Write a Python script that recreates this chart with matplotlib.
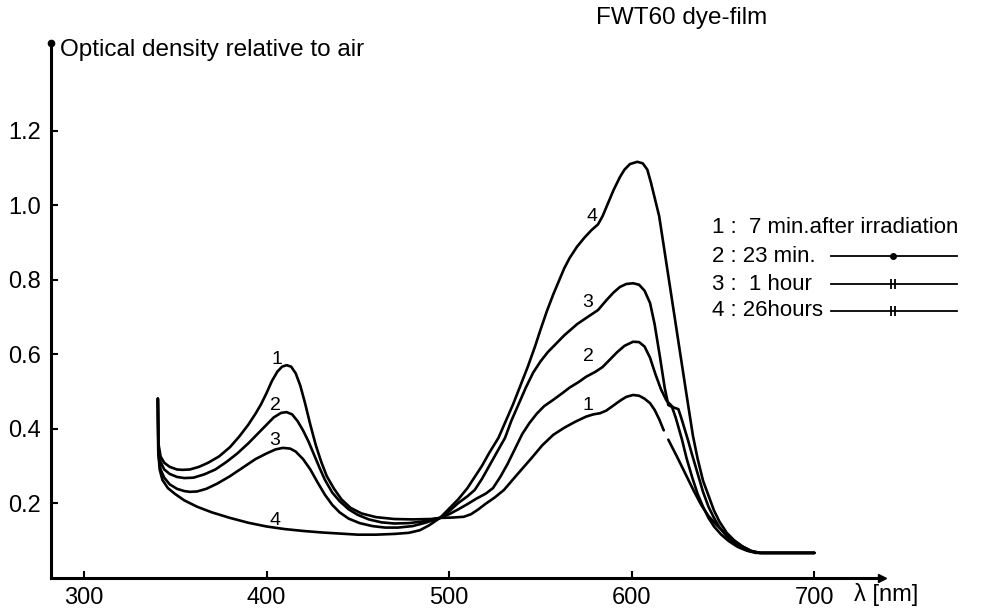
import numpy as np
import matplotlib
matplotlib.use("Agg")
import matplotlib.pyplot as plt
from matplotlib.lines import Line2D

plt.rcParams["font.family"] = ["Liberation Sans", "DejaVu Sans"]

nan = np.nan

# ── data (wavelength nm, optical density) ────────────────────────────────────
wl_1 = [340.5, 340.8, 342, 344, 347, 351, 354, 358, 363, 368, 374, 380, 385, 390,
        394, 397, 400, 403, 406, 408.5, 411, 413.5, 416, 418.5, 421, 424, 427, 430,
        433, 437, 441, 446, 452, 460, 470, 480, 490, 495, 502, 508, 512, 516, 520,
        525, 530, 537, 545, 551, 557, 563, 569, 575, 579, 582.6, 586, 590, 594, 597,
        600.7, 604, 607, 610, 612.5, 615, 617.5, nan, 620, 625, 630, 634, 638, 642,
        646, 650, 655, 660, 665, 670, 700]
od_1 = [0.48, 0.36, 0.325, 0.308, 0.297, 0.29, 0.289, 0.29, 0.297, 0.308, 0.325, 0.35,
        0.378, 0.41, 0.44, 0.465, 0.495, 0.528, 0.553, 0.566, 0.57, 0.566, 0.548, 0.515,
        0.47, 0.41, 0.355, 0.31, 0.272, 0.238, 0.21, 0.187, 0.172, 0.162, 0.157, 0.156,
        0.157, 0.16, 0.161, 0.163, 0.17, 0.183, 0.198, 0.215, 0.235, 0.275, 0.32,
        0.355, 0.383, 0.402, 0.418, 0.432, 0.438, 0.441, 0.448, 0.462, 0.476, 0.485,
        0.49, 0.488, 0.48, 0.468, 0.45, 0.425, 0.395, nan, 0.37, 0.322, 0.272, 0.232,
        0.195, 0.165, 0.143, 0.124, 0.102, 0.085, 0.072, 0.066, 0.066]

wl_2 = [340.5, 340.8, 342, 344, 347, 351, 355, 360, 366, 372, 378, 384, 390, 395,
        400, 404, 408, 411, 414, 417, 420, 423, 426, 429, 432, 436, 440, 445, 450, 456,
        463, 470, 478, 485, 490, 495, 500, 505, 510, 515, 520, 524, 528, 532, 536, 540,
        544, 548, 552, 557, 562, 566, 571, 575, 580, 584, 588, 592, 596, 600.7, 604,
        607, 610, 613, 616, 619, 622.6, 625.5, 627, 630.7, 633, 636, 639, 642, 645, 648,
        652, 656, 660, 665, 670, 700]
od_2 = [0.48, 0.35, 0.31, 0.29, 0.278, 0.27, 0.267, 0.268, 0.277, 0.29, 0.31, 0.333,
        0.36, 0.385, 0.41, 0.43, 0.442, 0.444, 0.438, 0.42, 0.395, 0.365, 0.33, 0.295,
        0.262, 0.228, 0.205, 0.183, 0.168, 0.156, 0.148, 0.145, 0.146, 0.15, 0.155,
        0.16, 0.17, 0.183, 0.197, 0.212, 0.225, 0.24, 0.27, 0.305, 0.345, 0.385, 0.415,
        0.44, 0.46, 0.477, 0.495, 0.51, 0.525, 0.539, 0.552, 0.565, 0.585, 0.605,
        0.622, 0.633, 0.632, 0.62, 0.59, 0.545, 0.505, 0.475, 0.457, 0.452, 0.43, 0.37,
        0.33, 0.28, 0.23, 0.19, 0.16, 0.135, 0.11, 0.093, 0.08, 0.07, 0.066, 0.066]

wl_3 = [340.5, 340.8, 342, 344, 347, 351, 355, 358, 362, 367, 373, 380, 387, 394,
        400, 405, 409, 413, 416, 420, 424, 428, 432, 436, 440, 445, 451, 458, 465, 472,
        480, 487, 495, 500, 505, 510, 514, 518, 522, 526, 530.6, 534, 538, 542, 546,
        550, 554, 557, 563, 570, 576, 581.5, 586.2, 590, 593.5, 597, 600.7, 604, 607,
        610, 612.5, 615.4, 618, 620, 622, 624, 627.5, 630, 633, 636, 639, 642, 645,
        649, 653, 658, 663, 668, 700]
od_3 = [0.48, 0.33, 0.29, 0.268, 0.25, 0.238, 0.232, 0.23, 0.231, 0.238, 0.252,
        0.272, 0.295, 0.318, 0.333, 0.344, 0.348, 0.346, 0.338, 0.318, 0.29, 0.255,
        0.222, 0.195, 0.175, 0.158, 0.146, 0.138, 0.134, 0.134, 0.138, 0.147, 0.16,
        0.178, 0.2, 0.218, 0.235, 0.265, 0.3, 0.335, 0.375, 0.42, 0.465, 0.51, 0.55,
        0.58, 0.605, 0.62, 0.65, 0.68, 0.7, 0.718, 0.745, 0.765, 0.78, 0.788, 0.79,
        0.786, 0.77, 0.737, 0.68, 0.593, 0.51, 0.463, 0.458, 0.43, 0.37, 0.32, 0.27,
        0.225, 0.19, 0.16, 0.137, 0.115, 0.098, 0.082, 0.072, 0.066, 0.066]

wl_4 = [340.5, 340.7, 341.5, 343, 346, 350, 355, 362, 370, 380, 390, 400, 410, 420,
        430, 440, 450, 460, 470, 478, 484, 489, 495, 500, 505, 510, 514, 518, 522, 527,
        531, 535, 539, 543, 547, 550, 553.5, 557, 560, 563, 566, 570, 574, 578, 581.5,
        584, 587, 590, 593.5, 596, 599, 603, 606, 608.5, 610.5, 612.5, 615, 620, 625,
        630, 633.5, 636, 639, 642, 645, 648, 652, 656, 661, 666, 671, 700]
od_4 = [0.48, 0.34, 0.29, 0.262, 0.24, 0.224, 0.207, 0.19, 0.175, 0.16, 0.147, 0.137,
        0.13, 0.125, 0.121, 0.118, 0.115, 0.115, 0.117, 0.12, 0.127, 0.14, 0.16, 0.185,
        0.21, 0.24, 0.27, 0.3, 0.335, 0.375, 0.42, 0.465, 0.515, 0.565, 0.62, 0.665,
        0.715, 0.76, 0.795, 0.83, 0.858, 0.888, 0.912, 0.933, 0.948, 0.97, 1.005, 1.04,
        1.075, 1.095, 1.11, 1.116, 1.112, 1.095, 1.06, 1.02, 0.97, 0.81, 0.65, 0.49,
        0.38, 0.32, 0.26, 0.22, 0.18, 0.15, 0.12, 0.1, 0.082, 0.07, 0.066, 0.066]

curves = [(wl_1, od_1), (wl_2, od_2), (wl_3, od_3), (wl_4, od_4)]

x_ticks = [300, 400, 500, 600, 700]
y_ticks = [0.2, 0.4, 0.6, 0.8, 1.0, 1.2]

curve_tags = ["1", "2", "3", "4"]
tag_left = [(405.7, 0.584), (405.1, 0.463), (404.6, 0.369), (404.6, 0.154)]
tag_right = [(576.0, 0.463), (576.0, 0.592), (576.0, 0.737), (578.2, 0.968)]

legend_rows = ["1 :  7 min.after irradiation", "2 : 23 min.", "3 :  1 hour",
               "4 : 26hours"]
legend_marks = [None, "dot", "bars", "bars"]

# ── figure ───────────────────────────────────────────────────────────────────
W, H = 994, 614
fig = plt.figure(figsize=(W / 100, H / 100), dpi=100)


def fx(x):
    return x / W


def fy(y):
    return 1 - y / H


ax = fig.add_axes([fx(51), fy(577.5), (882 - 51) / W, (577.5 - 43) / H])
ax.set_xlim(282, 737)
ax.set_ylim(0, 1.435)

for wl, od in curves:
    ax.plot(wl, od, color="black", lw=1.9, solid_joinstyle="round",
            solid_capstyle="round")

for tag, (x, y) in zip(curve_tags, tag_left):
    ax.text(x, y, tag, ha="center", va="center", fontsize=14)
for tag, (x, y) in zip(curve_tags, tag_right):
    ax.text(x, y, tag, ha="center", va="center", fontsize=14)

for s in ["top", "right"]:
    ax.spines[s].set_visible(False)
for s in ["left", "bottom"]:
    ax.spines[s].set_linewidth(2.2)

ax.set_xticks(x_ticks)
ax.set_yticks(y_ticks)
ax.set_yticklabels([f"{v:.1f}" for v in y_ticks])
ax.tick_params(direction="in", length=5, width=1.5, labelsize=17, pad=7)

# axis ends: arrow on x, dot on y
ax.plot(1, 0, marker=">", color="black", ms=6, transform=ax.transAxes, clip_on=False)
ax.plot(0, 1, marker="o", color="black", ms=4.5, transform=ax.transAxes, clip_on=False)

fig.text(fx(60), fy(50), "Optical density relative to air", fontsize=17.5,
         ha="left", va="center")
fig.text(fx(682), fy(18), "FWT60 dye-film", fontsize=17.5, ha="center", va="center")
fig.text(fx(886), fy(594), "λ [nm]", fontsize=17, ha="center", va="center")

row_y = [228, 256, 284, 311]
for text, mark, y in zip(legend_rows, legend_marks, row_y):
    fig.text(fx(712), fy(y), text, fontsize=16, ha="left", va="center")
    if mark is None:
        continue
    fig.add_artist(Line2D([fx(831), fx(957)], [fy(y), fy(y)], color="black", lw=1.3))
    if mark == "dot":
        fig.add_artist(Line2D([fx(893)], [fy(y)], marker="o", ms=4, color="black"))
    else:
        fig.add_artist(Line2D([fx(891), fx(895)], [fy(y), fy(y)], ls="none",
                              marker="|", ms=7, mew=1.3, color="black"))

fig.savefig("out.png", dpi=100)
